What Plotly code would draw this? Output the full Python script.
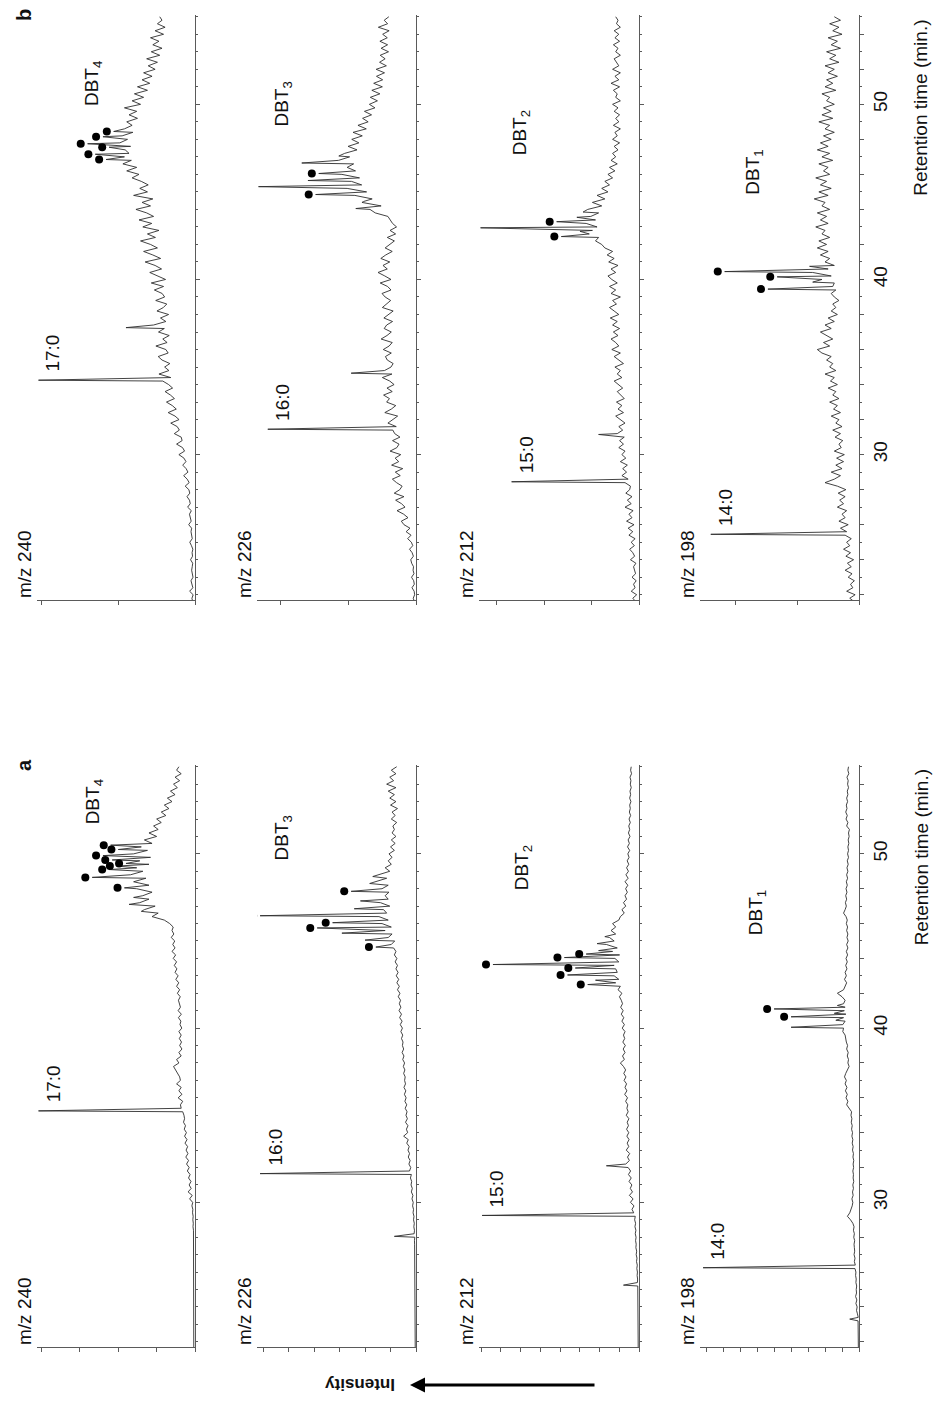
import plotly.graph_objects as go

FONT = "Arial, Liberation Sans, Helvetica, sans-serif"
W, H = 935, 1424

# ---------------- data ----------------
# digitised baselines sampled every 0.2 min from 21.6 to 55.0 min (168 samples)
GRID_START, GRID_STEP, N_GRID = 21.6, 0.2, 168
ret_time = [round(GRID_START + k * GRID_STEP, 2) for k in range(N_GRID)]

mz_labels = ["m/z 240", "m/z 226", "m/z 212", "m/z 198"]
fa_labels = ["17:0", "16:0", "15:0", "14:0"]
dbt_labels = ["DBT<sub>4</sub>", "DBT<sub>3</sub>", "DBT<sub>2</sub>", "DBT<sub>1</sub>"]
panel_labels = ["b", "a"]
time_tick_labels = [30, 40, 50]

# ----- panel a -----
a240_base = [
    0.8, 0.8, 0.8, 0.9, 0.8, 0.8, 0.9, 0.8, 0.8, 0.8,
    0.8, 0.9, 0.8, 0.8, 0.9, 0.8, 0.8, 0.9, 0.8, 0.9,
    0.9, 0.8, 1.0, 0.9, 0.8, 1.0, 0.9, 1.0, 0.9, 1.1,
    1.0, 1.1, 0.9, 1.2, 1.0, 1.3, 1.1, 1.4, 1.2, 1.6,
    1.4, 2.0, 1.5, 3.5, 1.8, 4.5, 2.5, 3.8, 2.6, 4.2,
    3.2, 5.0, 3.8, 5.5, 4.2, 6.0, 4.6, 5.8, 4.8, 6.5,
    5.2, 6.8, 5.6, 7.0, 6.2, 7.5, 6.8, 7.2, 8.0, 9.0,
    9.5, 8.0, 11.0, 8.5, 10.5, 9.0, 12.0, 9.5, 10.0, 11.5,
    12.5, 14.0, 10.5, 12.0, 9.0, 10.5, 8.5, 10.0, 8.8, 10.2,
    9.0, 10.5, 8.6, 9.8, 9.2, 10.8, 8.9, 11.0, 9.5, 10.2,
    10.8, 9.6, 11.5, 10.0, 12.0, 10.6, 12.5, 11.0, 13.0, 11.8,
    13.5, 12.0, 14.2, 12.6, 15.0, 13.0, 14.5, 13.2, 15.5, 13.8,
    15.0, 14.2, 16.5, 20.0, 28.0, 24.0, 33.0, 26.0, 36.0, 30.0,
    34.0, 28.0, 38.0, 30.0, 40.0, 32.0, 42.0, 34.0, 38.0, 30.0,
    36.0, 29.0, 40.0, 31.0, 35.0, 28.0, 33.0, 25.0, 30.0, 24.0,
    27.0, 22.0, 25.0, 19.0, 22.0, 17.0, 20.0, 15.0, 18.0, 13.0,
    16.0, 11.5, 14.0, 10.0, 13.0, 9.0, 12.0, 10.5,
]
a240_spk_t = [35.25, 46.7, 47.1, 47.5, 48.05, 48.65, 49.1, 49.3, 49.45, 49.65, 49.9, 50.25, 50.5]
a240_spk_i = [102, 35, 43, 40, 46, 67, 56, 51, 45, 54, 60, 50, 55]
a240_dot = [0, 0, 0, 0, 1, 1, 1, 1, 1, 1, 1, 1, 1]
a240_fa = 0

a226_base = [
    0.5, 0.5, 0.6, 0.5, 0.5, 0.6, 0.5, 0.5, 0.6, 0.5,
    0.5, 0.6, 0.5, 0.6, 0.5, 0.7, 0.6, 0.5, 0.7, 0.6,
    0.6, 0.7, 0.6, 0.8, 0.7, 0.6, 0.8, 0.7, 0.9, 0.8,
    0.9, 1.0, 0.8, 1.2, 1.0, 1.4, 1.1, 1.6, 1.3, 1.9,
    1.6, 2.2, 1.8, 2.6, 2.0, 3.0, 2.4, 3.2, 2.8, 3.6,
    3.0, 4.2, 3.4, 4.6, 3.8, 5.0, 4.2, 5.2, 4.4, 6.0,
    5.0, 8.0, 5.4, 6.2, 5.2, 6.8, 5.6, 6.5, 5.8, 7.0,
    6.0, 7.2, 6.4, 7.5, 6.6, 7.8, 6.8, 7.4, 7.0, 8.0,
    7.2, 8.2, 7.4, 8.6, 7.8, 9.0, 8.0, 8.8, 8.4, 9.4,
    8.6, 9.8, 8.8, 10.2, 9.0, 10.6, 9.4, 11.0, 9.8, 10.8,
    10.0, 11.5, 10.4, 12.0, 10.8, 12.4, 11.2, 12.8, 11.6, 13.0,
    12.0, 13.5, 12.4, 14.0, 13.0, 14.5, 16.0, 13.8, 18.0, 15.5,
    20.0, 16.0, 22.0, 18.0, 24.0, 19.0, 21.0, 17.0, 23.0, 18.0,
    20.0, 17.5, 22.0, 18.0, 26.0, 19.0, 24.0, 17.0, 20.0, 16.0,
    18.0, 15.5, 17.5, 14.0, 16.5, 13.5, 16.0, 13.0, 15.5, 14.0,
    15.0, 12.5, 16.0, 13.5, 15.5, 12.0, 16.5, 13.0, 17.0, 14.0,
    18.0, 13.0, 19.0, 14.5, 17.0, 13.0, 16.0, 12.5,
]
a226_spk_t = [28.05, 31.65, 44.65, 45.05, 45.45, 45.75, 46.05, 46.45, 46.85, 47.3, 47.85, 48.3, 48.7]
a226_spk_i = [14, 101, 26, 33, 48, 64, 54, 101, 40, 36, 42, 30, 28]
a226_dot = [0, 0, 1, 0, 0, 1, 1, 1, 0, 0, 1, 0, 0]
a226_fa = 1

a212_base = [
    0.5, 0.5, 0.6, 0.5, 0.5, 0.6, 0.5, 0.6, 0.5, 0.6,
    0.6, 0.5, 0.7, 0.6, 0.8, 0.6, 0.7, 0.9, 0.8, 1.0,
    0.9, 1.2, 1.0, 1.4, 1.1, 1.6, 1.3, 1.8, 1.5, 2.0,
    1.8, 2.2, 1.9, 2.4, 2.0, 2.6, 2.2, 2.8, 2.4, 3.4,
    4.5, 3.2, 5.5, 3.8, 6.2, 4.2, 5.6, 4.6, 6.4, 5.0,
    6.8, 5.4, 7.0, 8.5, 6.2, 7.4, 6.0, 8.2, 6.6, 7.6,
    6.4, 7.8, 6.6, 8.0, 6.8, 7.6, 6.5, 8.2, 7.0, 7.8,
    7.2, 8.6, 7.4, 9.2, 7.8, 9.0, 8.0, 9.6, 8.4, 9.8,
    8.6, 10.0, 12.0, 9.4, 10.6, 9.0, 10.2, 8.8, 10.4, 9.2,
    10.0, 9.0, 10.8, 9.4, 11.0, 9.8, 11.4, 10.2, 11.8, 10.6,
    11.4, 12.6, 11.0, 13.5, 12.0, 15.0, 13.0, 16.0, 14.0, 15.0,
    16.0, 13.0, 15.5, 12.5, 17.0, 14.0, 21.0, 16.0, 19.0, 15.0,
    18.0, 15.0, 17.0, 13.0, 12.0, 9.5, 11.0, 8.5, 10.0, 8.0,
    9.0, 7.5, 8.6, 7.2, 9.0, 7.0, 8.4, 6.8, 8.0, 6.6,
    7.6, 6.4, 7.2, 6.0, 7.4, 6.2, 7.0, 5.8, 6.8, 6.0,
    6.6, 5.6, 6.4, 5.4, 6.2, 5.6, 6.0, 5.2, 6.0, 5.4,
    5.8, 5.0, 5.6, 5.2, 5.8, 4.8, 5.4, 5.0,
]
a212_spk_t = [25.25, 29.25, 32.1, 42.5, 42.75, 43.05, 43.45, 43.65, 44.05, 44.25, 44.45, 44.85, 45.25]
a212_spk_i = [10, 101, 21, 33, 28, 46, 41, 94, 48, 34, 26, 27, 22]
a212_dot = [0, 0, 0, 1, 0, 1, 1, 1, 1, 1, 0, 0, 0]
a212_fa = 1

a198_base = [
    0.4, 0.4, 0.5, 0.4, 0.5, 0.4, 0.6, 0.5, 0.6, 0.5,
    1.0, 1.6, 1.2, 2.0, 1.4, 2.2, 1.6, 1.8, 1.5, 2.0,
    1.8, 2.2, 2.0, 2.6, 2.4, 3.0, 2.6, 3.2, 2.8, 3.0,
    3.2, 2.8, 3.4, 3.0, 3.6, 3.2, 4.0, 5.5, 7.5, 6.0,
    5.0, 4.4, 4.0, 4.6, 3.8, 4.2, 3.6, 4.0, 3.4, 3.8,
    3.6, 4.0, 3.5, 3.8, 3.4, 3.9, 3.6, 4.2, 3.8, 4.4,
    4.0, 4.6, 4.2, 4.8, 4.4, 5.0, 4.6, 5.2, 4.8, 6.5,
    8.0, 7.2, 8.4, 7.6, 8.8, 7.8, 9.0, 8.2, 9.4, 8.6,
    7.5, 6.4, 7.2, 6.8, 7.6, 7.0, 8.0, 7.4, 8.2, 8.8,
    9.0, 10.5, 10.0, 10.5, 9.0, 10.0, 8.5, 9.5, 9.0, 10.0,
    9.0, 11.0, 14.0, 10.0, 9.0, 8.0, 9.4, 8.2, 9.0, 7.8,
    8.6, 7.6, 8.4, 7.4, 8.2, 7.2, 8.0, 7.0, 7.8, 7.2,
    8.0, 7.4, 8.2, 7.6, 8.4, 10.0, 9.0, 8.2, 8.8, 8.0,
    8.6, 7.8, 8.4, 7.6, 8.2, 7.4, 8.0, 7.2, 7.8, 7.0,
    7.6, 6.8, 7.4, 6.8, 7.2, 6.6, 7.0, 6.4, 6.8, 6.2,
    8.0, 7.2, 8.4, 7.6, 8.6, 7.8, 8.2, 7.4, 8.0, 7.2,
    7.6, 6.8, 7.4, 7.0, 7.8, 6.6, 7.2, 6.8,
]
a198_spk_t = [23.3, 26.25, 40.05, 40.45, 40.65, 40.85, 41.1, 41.3]
a198_spk_i = [6, 101, 44, 15, 44, 16, 55, 14]
a198_dot = [0, 0, 0, 0, 1, 0, 1, 0]
a198_fa = 1

# ----- panel b -----
b240_base = [
    1.5, 2.0, 1.2, 3.5, 1.4, 1.8, 2.6, 1.3, 1.6, 2.2,
    1.8, 1.5, 2.9, 1.6, 1.9, 1.4, 2.3, 3.4, 1.8, 2.1,
    2.6, 2.2, 4.1, 2.5, 3.0, 3.6, 2.4, 4.8, 3.1, 3.6,
    5.2, 3.4, 4.0, 6.4, 3.8, 5.1, 7.4, 4.6, 5.8, 8.0,
    5.9, 7.2, 10.5, 6.8, 8.1, 12.0, 8.4, 9.0, 13.5, 10.2,
    11.6, 15.8, 10.4, 13.0, 17.5, 12.2, 14.8, 18.6, 13.4, 16.0,
    19.5, 14.6, 17.2, 21.0, 15.8, 23.5, 17.0, 19.8, 16.4, 21.5,
    24.0, 17.5, 19.0, 25.5, 18.2, 21.0, 16.8, 23.8, 20.0, 27.0,
    19.0, 22.5, 17.2, 24.8, 20.6, 18.4, 25.6, 19.8, 21.4, 26.5,
    20.5, 28.5, 19.2, 24.0, 29.5, 21.8, 26.0, 32.5, 22.4, 27.5,
    33.5, 24.5, 29.0, 35.5, 25.8, 31.0, 23.5, 34.0, 28.2, 36.5,
    27.0, 31.5, 38.5, 29.0, 34.5, 27.5, 40.0, 31.0, 36.0, 30.5,
    35.0, 41.0, 36.5, 44.5, 38.0, 47.0, 41.5, 46.0, 43.0, 45.5,
    42.0, 49.0, 44.0, 47.5, 40.5, 46.0, 41.0, 44.5, 37.5, 43.0,
    38.0, 46.0, 35.5, 41.0, 33.5, 39.5, 31.0, 37.5, 29.5, 34.5,
    28.0, 33.5, 26.0, 30.5, 24.5, 31.5, 23.0, 28.5, 21.5, 27.5,
    23.5, 29.0, 20.5, 26.0, 19.5, 24.5, 21.5, 23.0,
]
b240_spk_t = [34.25, 37.25, 46.85, 47.15, 47.55, 47.75, 48.15, 48.45]
b240_spk_i = [102, 45, 58, 65, 56, 70, 60, 53]
b240_dot = [0, 0, 1, 1, 1, 1, 1, 1]
b240_fa = 0

b226_base = [
    1.0, 1.8, 0.9, 1.2, 2.6, 1.1, 1.5, 2.9, 1.3, 1.9,
    1.6, 2.8, 3.4, 1.7, 2.5, 4.2, 2.1, 3.0, 5.4, 3.2,
    6.4, 3.9, 7.8, 9.5, 5.2, 8.0, 12.3, 7.1, 9.4, 13.2,
    7.8, 14.1, 10.5, 9.0, 12.6, 15.3, 10.2, 13.4, 8.6, 15.8,
    11.2, 13.5, 9.9, 16.8, 12.4, 11.0, 15.2, 10.4, 13.8, 15.0,
    12.8, 18.2, 14.6, 11.9, 20.2, 16.0, 13.1, 19.0, 17.2, 21.0,
    15.4, 18.8, 14.2, 17.0, 21.8, 15.6, 20.4, 16.2, 14.8, 18.6,
    19.8, 16.0, 21.2, 17.4, 15.4, 22.6, 18.8, 16.0, 20.6, 19.0,
    15.2, 20.8, 17.6, 14.8, 21.8, 19.2, 16.4, 20.0, 22.0, 16.2,
    18.4, 23.2, 16.2, 20.2, 24.6, 18.6, 21.4, 17.0, 22.8, 19.6,
    15.4, 20.0, 17.2, 14.0, 18.6, 13.2, 16.8, 12.6, 15.2, 16.6,
    18.2, 26.4, 29.8, 22.6, 35.0, 28.4, 39.6, 32.0, 44.6, 35.2,
    41.8, 36.6, 48.0, 39.2, 44.6, 40.4, 50.2, 43.0, 46.2, 38.2,
    44.0, 37.0, 41.6, 34.8, 40.8, 32.2, 37.6, 31.0, 34.6, 28.8,
    33.4, 26.6, 30.2, 25.0, 29.6, 23.4, 28.6, 21.8, 27.4, 21.6,
    25.6, 20.4, 25.8, 19.2, 23.6, 20.0, 23.2, 17.8, 22.6, 18.4,
    23.4, 18.6, 21.6, 17.4, 24.4, 18.4, 20.6, 17.6,
]
b226_spk_t = [31.45, 34.65, 44.05, 44.45, 44.85, 45.3, 45.65, 46.05, 46.65, 47.05]
b226_spk_i = [96, 42, 39, 34, 65, 102, 70, 63, 74, 50]
b226_dot = [0, 0, 0, 0, 1, 1, 0, 1, 0, 0]
b226_fa = 0

b212_base = [
    2.0, 4.0, 1.5, 5.0, 2.5, 3.5, 1.8, 4.5, 2.2, 3.0,
    3.5, 2.0, 5.5, 2.8, 4.0, 6.0, 3.0, 5.0, 2.5, 6.5,
    4.0, 7.0, 3.2, 8.0, 4.5, 6.5, 3.8, 9.0, 5.0, 7.5,
    4.5, 8.5, 6.0, 5.5, 9.0, 7.0, 11.0, 8.0, 10.5, 7.5,
    12.0, 8.5, 11.0, 9.0, 13.0, 10.0, 12.5, 9.5, 14.0, 10.5,
    13.0, 9.0, 12.0, 15.0, 10.0, 13.5, 11.0, 14.5, 9.5, 12.0,
    14.0, 10.5, 13.0, 16.0, 11.0, 14.0, 12.0, 15.5, 10.0, 13.0,
    16.0, 12.0, 17.5, 13.0, 15.0, 18.0, 13.5, 16.5, 12.5, 17.0,
    14.0, 18.5, 13.0, 16.0, 19.0, 14.5, 17.0, 12.0, 18.0, 15.0,
    19.0, 14.0, 17.5, 20.0, 15.0, 18.0, 13.5, 19.5, 16.0, 20.5,
    17.0, 22.0, 24.0, 28.0, 26.0, 32.0, 30.0, 27.0, 34.0, 28.0,
    31.0, 26.0, 33.0, 24.0, 30.0, 22.0, 27.0, 20.0, 24.0, 19.0,
    22.0, 17.0, 20.0, 15.5, 19.0, 14.0, 18.0, 15.0, 17.0, 13.5,
    16.0, 12.5, 17.0, 14.0, 15.5, 12.0, 16.5, 13.0, 15.0, 12.5,
    16.0, 13.5, 17.0, 12.0, 15.0, 14.0, 16.5, 12.5, 18.0, 13.0,
    15.5, 12.0, 17.0, 13.0, 14.5, 16.0, 12.0, 15.0, 13.5, 16.5,
    12.5, 15.5, 13.0, 16.0, 12.0, 14.5, 13.5, 15.0,
]
b212_spk_t = [28.45, 31.15, 42.45, 42.75, 42.95, 43.3, 43.55, 43.85]
b212_spk_i = [82, 26, 50, 38, 102, 53, 40, 36]
b212_dot = [0, 0, 1, 0, 1, 1, 0, 0]
b212_fa = 0

b198_base = [
    3.0, 6.0, 2.5, 8.0, 4.0, 5.5, 3.0, 7.0, 4.5, 9.0,
    5.0, 7.5, 3.5, 8.5, 5.5, 10.0, 6.0, 8.0, 5.0, 9.0,
    8.0, 12.0, 7.0, 13.0, 9.0, 11.0, 8.0, 14.0, 10.0, 12.5,
    9.0, 13.5, 8.5, 14.0, 22.0, 16.0, 12.0, 18.0, 11.0, 15.0,
    10.0, 14.5, 9.5, 16.0, 11.5, 13.0, 10.5, 15.5, 12.0, 17.0,
    11.0, 15.0, 13.0, 18.0, 12.0, 16.5, 14.0, 19.0, 13.0, 17.0,
    15.0, 20.0, 14.0, 18.5, 16.0, 22.0, 15.0, 19.0, 17.0, 21.0,
    18.0, 24.0, 27.0, 19.0, 23.0, 17.0, 21.0, 25.0, 18.0, 22.0,
    16.0, 20.0, 14.0, 18.0, 15.0, 17.0, 13.0, 16.0, 18.0, 15.0,
    17.0, 16.0, 24.0, 18.0, 30.0, 20.0, 16.0, 22.0, 19.0, 25.0,
    20.0, 27.0, 21.0, 26.0, 19.0, 24.0, 22.0, 28.0, 20.0, 25.0,
    21.0, 27.0, 19.0, 24.0, 22.0, 29.0, 20.0, 26.0, 18.0, 25.0,
    21.0, 28.0, 19.0, 23.0, 20.0, 26.0, 17.0, 24.0, 19.0, 27.0,
    20.0, 25.0, 18.0, 23.0, 16.0, 22.0, 19.0, 26.0, 17.0, 24.0,
    18.0, 23.0, 16.0, 21.0, 19.0, 24.0, 15.0, 22.0, 17.0, 21.0,
    14.0, 20.0, 16.0, 22.0, 13.0, 19.0, 15.0, 21.0, 12.0, 18.0,
    14.0, 20.0, 11.0, 17.0, 13.0, 19.0, 12.0, 16.0,
]
b198_spk_t = [25.45, 39.45, 39.85, 40.15, 40.45, 40.75]
b198_spk_i = [96, 59, 30, 53, 87, 32]
b198_dot = [0, 1, 0, 1, 1, 0]
b198_fa = 0

panels = {
    "a": [
        (a240_base, a240_spk_t, a240_spk_i, a240_dot, a240_fa),
        (a226_base, a226_spk_t, a226_spk_i, a226_dot, a226_fa),
        (a212_base, a212_spk_t, a212_spk_i, a212_dot, a212_fa),
        (a198_base, a198_spk_t, a198_spk_i, a198_dot, a198_fa),
    ],
    "b": [
        (b240_base, b240_spk_t, b240_spk_i, b240_dot, b240_fa),
        (b226_base, b226_spk_t, b226_spk_i, b226_dot, b226_fa),
        (b212_base, b212_spk_t, b212_spk_i, b212_dot, b212_fa),
        (b198_base, b198_spk_t, b198_spk_i, b198_dot, b198_fa),
    ],
}

# ---------------- layout geometry / styling ----------------
col_px = [(37, 195), (257, 416), (479, 639), (700, 859)]
row_px = {"b": (15, 600), "a": (765, 1347)}
x_dtick = {"a": [25, 16.5, 12.7, 11.0], "b": [50, 44, 30.5, 40]}
dbt_pos = {"a": [(66, 53.0), (86, 50.9), (75, 49.2), (66, 46.6)],
           "b": [(66, 51.2), (86, 50.0), (76, 48.4), (68, 46.1)]}
DOT_GAP = 4.5
LINE_C = "#2e2e2e"
AXIS_C = "#5a5a5a"
T_RANGE = [21.7, 55.1]
FS = 19

fig = go.Figure()
layout = dict(
    width=W, height=H, autosize=False,
    margin=dict(l=0, r=0, t=0, b=0),
    paper_bgcolor="white", plot_bgcolor="white",
    showlegend=False, hovermode=False,
    font=dict(family=FONT, color="#111", size=FS),
)
ann = []
n = 0
for panel in panel_labels:
    y0, y1 = row_px[panel]
    for c in range(4):
        n += 1
        sfx = "" if n == 1 else str(n)
        xa, ya = "x" + sfx, "y" + sfx
        base, st, si, dot, fa = panels[panel][c]
        assert len(base) == N_GRID, (panel, c, len(base))
        pts = sorted(list(zip(ret_time, base)) + list(zip(st, si)))
        fig.add_trace(go.Scatter(
            x=[p[1] for p in pts], y=[p[0] for p in pts], mode="lines",
            line=dict(color=LINE_C, width=0.9), xaxis=xa, yaxis=ya,
            hoverinfo="skip"))
        dt = [t for t, d in zip(st, dot) if d]
        di = [v + DOT_GAP for v, d in zip(si, dot) if d]
        fig.add_trace(go.Scatter(
            x=di, y=dt, mode="markers",
            marker=dict(color="black", size=8, line=dict(width=0)),
            xaxis=xa, yaxis=ya, hoverinfo="skip"))

        x0, x1 = col_px[c]
        layout["xaxis" + sfx] = dict(
            domain=[x0 / W, x1 / W], range=[103, 0], anchor=ya,
            showline=True, linecolor=AXIS_C, linewidth=1,
            ticks="outside", ticklen=4, tickcolor=AXIS_C, tickwidth=1,
            tick0=0, dtick=x_dtick[panel][c], showticklabels=False,
            showgrid=False, zeroline=False, fixedrange=True)
        layout["yaxis" + sfx] = dict(
            domain=[1 - y1 / H, 1 - y0 / H], range=T_RANGE, anchor=xa,
            side="right", showline=True, linecolor=AXIS_C, linewidth=1,
            ticks="outside", ticklen=4, tickcolor=AXIS_C, tickwidth=1,
            tick0=0, dtick=2,
            minor=dict(ticks="outside", ticklen=2, dtick=1, tickcolor=AXIS_C, showgrid=False),
            tickmode="array", tickvals=list(range(22, 56, 2)),
            ticktext=[str(v) if v in time_tick_labels else "" for v in range(22, 56, 2)],
            showticklabels=(c == 3), tickangle=-90,
            tickfont=dict(size=FS, family=FONT, color="#111"),
            showgrid=False, zeroline=False, fixedrange=True)

        ann.append(dict(text=mz_labels[c], xref=xa + " domain", yref=ya + " domain",
                        x=0, y=0, xanchor="center", yanchor="bottom",
                        xshift=-13, yshift=0, textangle=-90, showarrow=False,
                        font=dict(size=FS)))
        ann.append(dict(text=fa_labels[c], xref=xa, yref=ya,
                        x=si[fa], y=st[fa] + 0.35, xanchor="left", yanchor="bottom",
                        xshift=2, textangle=-90, showarrow=False, font=dict(size=FS)))
        px_, py_ = dbt_pos[panel][c]
        ann.append(dict(text=dbt_labels[c], xref=xa, yref=ya, x=px_, y=py_,
                        xanchor="center", yanchor="middle", textangle=-90,
                        showarrow=False, font=dict(size=FS)))
        if c == 0:
            ann.append(dict(text="<b>" + panel + "</b>", xref=xa + " domain",
                            yref=ya + " domain", x=0, y=1, xanchor="center",
                            yanchor="middle", xshift=-13, textangle=-90,
                            showarrow=False, font=dict(size=20)))
        if c == 3:
            ann.append(dict(text="Retention time (min.)", xref="paper", yref=ya,
                            x=921 / W, y=49.8, xanchor="center", yanchor="middle",
                            textangle=-90, showarrow=False, font=dict(size=FS)))

# intensity arrow
ay_p = 1 - 1385 / H
ann.append(dict(text="", xref="paper", yref="paper", x=410 / W, y=ay_p,
                ax=186, ay=0,
                showarrow=True, arrowhead=2, arrowsize=1, arrowwidth=3,
                arrowcolor="black"))
ann.append(dict(text="<b>Intensity</b>", xref="paper", yref="paper",
                x=360 / W, y=ay_p, xanchor="center", yanchor="middle",
                textangle=180, showarrow=False, font=dict(size=17)))

layout["annotations"] = ann
fig.update_layout(**layout)
fig.write_html("out.html")
